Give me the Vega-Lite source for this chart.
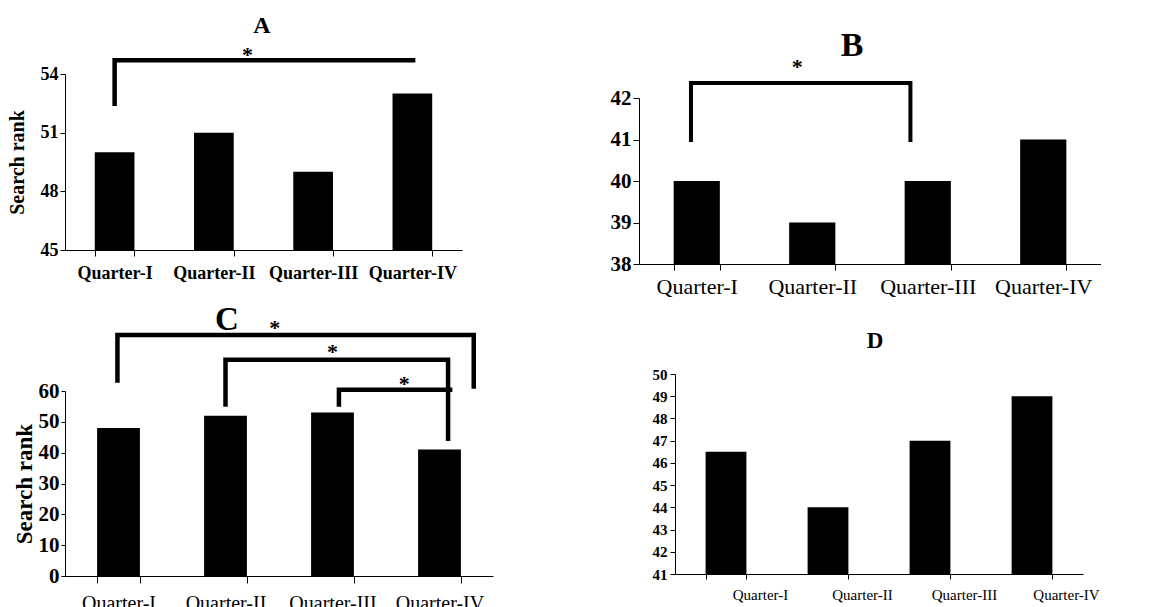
{
  "$schema": "https://vega.github.io/schema/vega-lite/v6.json",
  "background": "white",
  "padding": {"left": 7, "top": 14, "right": 0, "bottom": 0},
  "columns": 2,
  "align": {"row": "all", "column": "each"},
  "bounds": "flush",
  "spacing": {"row": 98, "column": 146},
  "config": {
    "view": {"stroke": null},
    "font": "Liberation Serif",
    "title": {"font": "Liberation Serif", "fontWeight": "bold", "color": "black"},
    "text": {"font": "Liberation Serif"},
    "axis": {
      "grid": false,
      "labelFont": "Liberation Serif",
      "titleFont": "Liberation Serif",
      "domainColor": "black",
      "tickColor": "black",
      "labelColor": "black",
      "titleColor": "black",
      "domainWidth": 1,
      "tickWidth": 1,
      "labelOverlap": false
    }
  },
  "datasets": {
    "bars": [
      {"panel": "A", "quarter": "Quarter-I", "value": 50},
      {"panel": "A", "quarter": "Quarter-II", "value": 51},
      {"panel": "A", "quarter": "Quarter-III", "value": 49},
      {"panel": "A", "quarter": "Quarter-IV", "value": 53},
      {"panel": "B", "quarter": "Quarter-I", "value": 40},
      {"panel": "B", "quarter": "Quarter-II", "value": 39},
      {"panel": "B", "quarter": "Quarter-III", "value": 40},
      {"panel": "B", "quarter": "Quarter-IV", "value": 41},
      {"panel": "C", "quarter": "Quarter-I", "value": 48},
      {"panel": "C", "quarter": "Quarter-II", "value": 52},
      {"panel": "C", "quarter": "Quarter-III", "value": 53},
      {"panel": "C", "quarter": "Quarter-IV", "value": 41},
      {"panel": "D", "quarter": "Quarter-I", "value": 46.5},
      {"panel": "D", "quarter": "Quarter-II", "value": 44},
      {"panel": "D", "quarter": "Quarter-III", "value": 47},
      {"panel": "D", "quarter": "Quarter-IV", "value": 49}
    ],
    "brackets": [
      {"panel": "A", "id": "A1", "ord": 1, "pos": 1.0, "value": 52.36},
      {"panel": "A", "id": "A1", "ord": 2, "pos": 1.0, "value": 54.7},
      {"panel": "A", "id": "A1", "ord": 3, "pos": 4.03, "value": 54.7},
      {"panel": "B", "id": "B1", "ord": 1, "pos": 0.95, "value": 40.94},
      {"panel": "B", "id": "B1", "ord": 2, "pos": 0.95, "value": 42.36},
      {"panel": "B", "id": "B1", "ord": 3, "pos": 2.85, "value": 42.36},
      {"panel": "B", "id": "B1", "ord": 4, "pos": 2.85, "value": 40.94},
      {"panel": "C", "id": "C1", "ord": 1, "pos": 0.99, "value": 62.7},
      {"panel": "C", "id": "C1", "ord": 2, "pos": 0.99, "value": 78.2},
      {"panel": "C", "id": "C1", "ord": 3, "pos": 4.32, "value": 78.2},
      {"panel": "C", "id": "C1", "ord": 4, "pos": 4.32, "value": 60.7},
      {"panel": "C", "id": "C2", "ord": 1, "pos": 2.0, "value": 54.9},
      {"panel": "C", "id": "C2", "ord": 2, "pos": 2.0, "value": 70.1},
      {"panel": "C", "id": "C2", "ord": 3, "pos": 4.08, "value": 70.1},
      {"panel": "C", "id": "C2", "ord": 4, "pos": 4.08, "value": 43.8},
      {"panel": "C", "id": "C3", "ord": 1, "pos": 3.06, "value": 54.9},
      {"panel": "C", "id": "C3", "ord": 2, "pos": 3.06, "value": 60.4},
      {"panel": "C", "id": "C3", "ord": 3, "pos": 4.12, "value": 60.4}
    ],
    "stars": [
      {"panel": "A", "pos": 2.34, "value": 54.61, "label": "*"},
      {"panel": "B", "pos": 1.87, "value": 42.58, "label": "*"},
      {"panel": "C", "pos": 2.46, "value": 78.2, "label": "*"},
      {"panel": "C", "pos": 3.0, "value": 70.4, "label": "*"},
      {"panel": "C", "pos": 3.67, "value": 59.9, "label": "*"}
    ]
  },
  "concat": [
    {
      "width": 397,
      "height": 176,
      "title": {"text": "A", "anchor": "start", "frame": "group", "align": "center", "dx": 197, "fontSize": 24, "offset": 6},
      "resolve": {"scale": {"x": "independent"}},
      "encoding": {
        "y": {"field": "value", "type": "quantitative",
          "scale": {"domain": [45, 54], "range": [176, 0], "nice": false, "zero": false},
          "axis": {"title": "Search rank", "values": [45, 48, 51, 54], "labelFontSize": 18, "labelFontWeight": "bold", "tickSize": 5, "labelPadding": 2, "titleFontSize": 20, "titleFontWeight": "bold", "titlePadding": 13}}
      },
      "layer": [
        {
          "data": {"name": "bars"},
          "transform": [{"filter": "datum.panel === 'A'"}],
          "mark": {"type": "bar", "color": "black"},
          "encoding": {
            "x": {"field": "quarter", "type": "nominal", "sort": null,
              "scale": {"range": [0, 397], "paddingInner": 0.6, "paddingOuter": 0.3},
              "axis": {"title": null, "labelAngle": 0, "tickBand": "extent", "labelFontSize": 18, "labelFontWeight": "bold", "tickSize": 6, "labelPadding": 8}},
            "y2": {"datum": 45}
          }
        },
        {
          "data": {"name": "stars"},
          "transform": [{"filter": "datum.panel === 'A'"}],
          "mark": {"type": "text", "fontSize": 22, "fontWeight": "bold", "baseline": "alphabetic", "color": "black"},
          "encoding": {
            "x": {"field": "pos", "type": "quantitative", "scale": {"domain": [0.5, 4.5], "range": [0, 397], "nice": false, "zero": false}, "axis": null},
            "text": {"field": "label"}
          }
        },
        {
          "data": {"name": "brackets"},
          "transform": [{"filter": "datum.panel === 'A'"}],
          "mark": {"type": "line", "color": "black", "strokeWidth": 4.5, "strokeJoin": "miter", "strokeCap": "butt"},
          "encoding": {
            "x": {"field": "pos", "type": "quantitative", "scale": {"domain": [0.5, 4.5], "range": [0, 397], "nice": false, "zero": false}, "axis": null},
            "detail": {"field": "id"},
            "order": {"field": "ord"}
          }
        }
      ]
    },
    {
      "width": 462,
      "height": 190,
      "title": {"text": "B", "anchor": "start", "frame": "group", "align": "center", "dx": 213, "fontSize": 34, "offset": -7},
      "resolve": {"scale": {"x": "independent"}},
      "encoding": {
        "y": {"field": "value", "type": "quantitative",
          "scale": {"domain": [38, 42], "range": [190, 24], "nice": false, "zero": false},
          "axis": {"title": null, "values": [38, 39, 40, 41, 42], "labelFontSize": 21, "labelFontWeight": "bold", "tickSize": 6, "labelPadding": 2}}
      },
      "layer": [
        {
          "data": {"name": "bars"},
          "transform": [{"filter": "datum.panel === 'B'"}],
          "mark": {"type": "bar", "color": "black"},
          "encoding": {
            "x": {"field": "quarter", "type": "nominal", "sort": null,
              "scale": {"range": [0, 462], "paddingInner": 0.6, "paddingOuter": 0.3},
              "axis": {"title": null, "labelAngle": 0, "tickBand": "extent", "labelFontSize": 22, "tickSize": 6, "labelPadding": 6}},
            "y2": {"datum": 38}
          }
        },
        {
          "data": {"name": "stars"},
          "transform": [{"filter": "datum.panel === 'B'"}],
          "mark": {"type": "text", "fontSize": 22, "fontWeight": "bold", "baseline": "alphabetic", "color": "black"},
          "encoding": {
            "x": {"field": "pos", "type": "quantitative", "scale": {"domain": [0.5, 4.5], "range": [0, 462], "nice": false, "zero": false}, "axis": null},
            "text": {"field": "label"}
          }
        },
        {
          "data": {"name": "brackets"},
          "transform": [{"filter": "datum.panel === 'B'"}],
          "mark": {"type": "line", "color": "black", "strokeWidth": 4, "strokeJoin": "miter", "strokeCap": "butt"},
          "encoding": {
            "x": {"field": "pos", "type": "quantitative", "scale": {"domain": [0.5, 4.5], "range": [0, 462], "nice": false, "zero": false}, "axis": null},
            "detail": {"field": "id"},
            "order": {"field": "ord"}
          }
        }
      ]
    },
    {
      "width": 428,
      "height": 202,
      "title": {"text": "C", "anchor": "start", "frame": "group", "align": "center", "dx": 162, "fontSize": 33, "offset": -20},
      "resolve": {"scale": {"x": "independent"}},
      "encoding": {
        "y": {"field": "value", "type": "quantitative",
          "scale": {"domain": [0, 60], "range": [202, 17], "nice": false, "zero": false},
          "axis": {"title": "Search rank", "values": [0, 10, 20, 30, 40, 50, 60], "labelFontSize": 21, "labelFontWeight": "bold", "tickSize": 4, "labelPadding": 2, "titleFontSize": 23, "titleFontWeight": "bold", "titlePadding": 2}}
      },
      "layer": [
        {
          "data": {"name": "bars"},
          "transform": [{"filter": "datum.panel === 'C'"}],
          "mark": {"type": "bar", "color": "black"},
          "encoding": {
            "x": {"field": "quarter", "type": "nominal", "sort": null,
              "scale": {"range": [0, 428], "paddingInner": 0.6, "paddingOuter": 0.3},
              "axis": {"title": null, "labelAngle": 0, "tickBand": "extent", "labelFontSize": 20, "tickSize": 7, "labelPadding": 10}},
            "y2": {"datum": 0}
          }
        },
        {
          "data": {"name": "stars"},
          "transform": [{"filter": "datum.panel === 'C'"}],
          "mark": {"type": "text", "fontSize": 22, "fontWeight": "bold", "baseline": "alphabetic", "color": "black"},
          "encoding": {
            "x": {"field": "pos", "type": "quantitative", "scale": {"domain": [0.5, 4.5], "range": [0, 428], "nice": false, "zero": false}, "axis": null},
            "text": {"field": "label"}
          }
        },
        {
          "data": {"name": "brackets"},
          "transform": [{"filter": "datum.panel === 'C'"}],
          "mark": {"type": "line", "color": "black", "strokeWidth": 4.5, "strokeJoin": "miter", "strokeCap": "butt"},
          "encoding": {
            "x": {"field": "pos", "type": "quantitative", "scale": {"domain": [0.5, 4.5], "range": [0, 428], "nice": false, "zero": false}, "axis": null},
            "detail": {"field": "id"},
            "order": {"field": "ord"}
          }
        }
      ]
    },
    {
      "width": 444,
      "height": 200,
      "title": {"text": "D", "anchor": "start", "frame": "group", "align": "center", "dx": 236, "fontSize": 23, "offset": 14},
      "data": {"name": "bars"},
      "transform": [{"filter": "datum.panel === 'D'"}],
      "mark": {"type": "bar", "color": "black"},
      "encoding": {
        "x": {"field": "quarter", "type": "nominal", "sort": null,
          "scale": {"range": [36, 444], "paddingInner": 0.6, "paddingOuter": 0.3},
          "axis": {"title": null, "labelAngle": 0, "tickBand": "extent", "labelFontSize": 15, "tickSize": 5, "labelPadding": 8, "labelOffset": 34}},
        "y": {"field": "value", "type": "quantitative",
          "scale": {"domain": [41, 50], "range": [200, 0], "nice": false, "zero": false},
          "axis": {"title": null, "values": [41, 42, 43, 44, 45, 46, 47, 48, 49, 50], "labelFontSize": 15, "labelFontWeight": "bold", "tickSize": 5, "labelPadding": 3, "offset": -36}},
        "y2": {"datum": 41}
      }
    }
  ]
}
